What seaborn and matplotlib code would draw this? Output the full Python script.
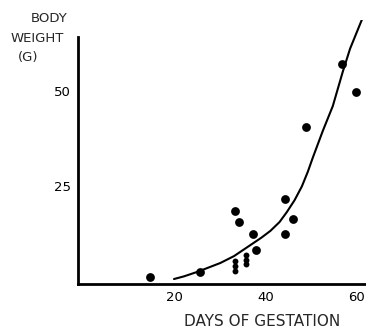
import matplotlib
matplotlib.use("Agg")
import matplotlib.pyplot as plt
import seaborn as sns

# Observed points (days of gestation, body weight g)
obs_days = [14.5, 25.5, 33.2, 34.0, 37.1, 37.8, 44.2, 45.9, 44.2, 48.8, 56.7, 59.8]
obs_weight = [1.2, 2.6, 18.6, 15.7, 12.6, 8.5, 21.6, 16.6, 12.6, 40.5, 57.0, 49.7]

# small stacked points
small_days = [33.2, 33.2, 33.2, 35.6, 35.6, 35.6]
small_weight = [5.4, 4.1, 2.8, 7.2, 5.9, 4.6]

# fitted growth curve (hand-drawn)
curve_days = [19.8, 22.0, 25.0, 30.0, 33.0, 36.5, 39.0, 41.0, 43.0, 44.6, 46.3, 47.9,
              49.2, 50.3, 52.5, 54.7, 56.9, 58.5, 61.1]
curve_weight = [0.8, 1.5, 2.7, 5.0, 6.8, 9.6, 11.6, 13.4, 15.7, 18.3, 21.4, 25.0,
                28.8, 32.5, 39.5, 46.0, 55.0, 61.0, 68.6]

x_ticks = [20, 40, 60]
y_ticks = [25, 50]

sns.set_style("white")
plt.rcParams['font.family'] = ['DejaVu Sans']

fig = plt.figure(figsize=(3.66, 3.31), dpi=100)
ax = fig.add_axes([78 / 366, 1 - 284 / 331, 288 / 366, 264 / 331])

sns.lineplot(x=curve_days, y=curve_weight, ax=ax, color="black", lw=1.5, sort=False)
sns.scatterplot(x=obs_days, y=obs_weight, ax=ax, color="black", s=40, edgecolor="black", linewidth=0)
sns.scatterplot(x=small_days, y=small_weight, ax=ax, color="black", s=18, edgecolor="black", linewidth=0)

ax.set_xlim(-1.3, 62)
ax.set_ylim(-0.5, 68.5)
ax.set_xticks(x_ticks)
ax.set_yticks(y_ticks)
ax.set_xticklabels([str(t) for t in x_ticks], fontsize=9.5)
ax.set_yticklabels([str(t) for t in y_ticks], fontsize=9.5)
ax.tick_params(direction="in", length=4, width=1.2, colors="black", pad=5)

for s in ["top", "right"]:
    ax.spines[s].set_visible(False)
ax.spines["left"].set_bounds(-0.5, 64)
ax.spines["left"].set_linewidth(2)
ax.spines["bottom"].set_linewidth(2)
ax.spines["left"].set_color("black")
ax.spines["bottom"].set_color("black")

fig.text(262 / 366, 1 - 322 / 331, "DAYS OF GESTATION", ha="center", va="center", fontsize=11)
fig.text(49 / 366, 1 - 18 / 331, "BODY", ha="center", va="center", fontsize=9.5)
fig.text(37 / 366, 1 - 39 / 331, "WEIGHT", ha="center", va="center", fontsize=9.5)
fig.text(28 / 366, 1 - 58 / 331, "(G)", ha="center", va="center", fontsize=9.5)

fig.savefig("out.png", dpi=100)
